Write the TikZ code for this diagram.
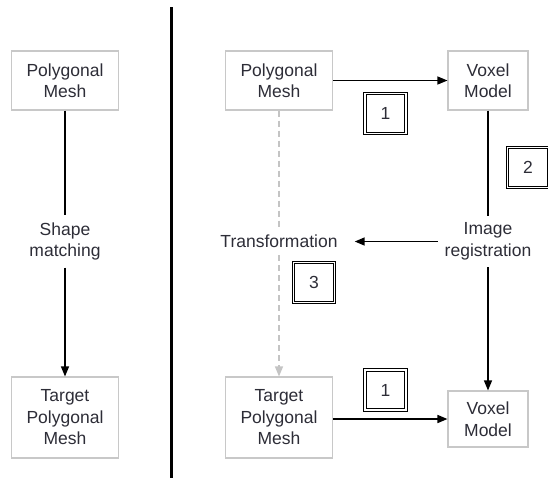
\documentclass[tikz,border=0pt]{standalone}
\usepackage{fontspec}
\setmainfont{Liberation Sans}
\usepackage{tikz}
\usetikzlibrary{positioning, arrows.meta}

\definecolor{boxgray}{RGB}{200,200,200}
\definecolor{dashgray}{RGB}{196,196,196}
\definecolor{txt}{RGB}{45,45,55}

\tikzset{
  block/.style={draw=boxgray, line width=1.1pt, fill=white, minimum width=107pt,
    minimum height=59pt, align=center, text=txt, inner sep=2pt},
  label/.style={align=center, text=txt, inner sep=7pt},
  badge/.style={draw=black, line width=1pt, double=white, double distance=1.3pt,
    minimum width=41pt, minimum height=40pt, text=txt, inner sep=0pt},
  link/.style={line width=1.2pt, -{Triangle[length=10pt,width=8pt]}},
  ghost/.style={draw=dashgray, line width=1.2pt, dash pattern=on 6pt off 4pt}
}

\begin{document}
\begin{tikzpicture}[x=1pt,y=-1pt,on grid,
    every node/.append style={font=\fontsize{17.5}{21.5}\selectfont}]
			\useasboundingbox (0,0) rectangle (548,480);
			% left: direct matching
			\node[block] (lp) at (65,80.5)                  {Polygonal\\Mesh};
			\node[label] (lm) [below=161pt of lp]           {Shape\\matching};
			\node[block, minimum height=81pt] (lt) [below=337pt of lp] {Target\\Polygonal\\Mesh};
			\draw[line width=1.2pt] (lp) -- (lm);
			\draw[link] (lm) -- (lt);
			% divider
			\coordinate (top) at (171,7);
			\coordinate (bot) at (171,478);
			\draw[line width=3pt] (top) -- (bot);
			% right: via voxel models
			\node[block] (rp) at (279,80.5)                 {Polygonal\\Mesh};
			\node[block, minimum width=80pt] (rv) [right=209pt of rp] {Voxel\\Model};
			\node[label] (tr) [below=161pt of rp]           {Transformation};
			\node[label] (ir) [below=161pt of rv]           {Image\\registration};
			\node[block, minimum height=81pt] (rt) [below=337pt of rp] {Target\\Polygonal\\Mesh};
			\node[block, minimum width=80pt, minimum height=56pt] (rw) [below=338.5pt of rv] {Voxel\\Model};
			\node[badge] (b1) at (385.5,113.5) {1};
			\node[badge] (b2) at (528,167.5)   {2};
			\node[badge] (b3) at (314,282.5)   {3};
			\node[badge] (b4) at (385.5,390)   {1};
			\draw[link] (rp) -- (rv);
			\draw[line width=1.2pt] (rv) -- (ir);
			\draw[link] (ir) -- (rw);
			\draw[link, line width=1.6pt, shorten >=10pt] (ir) -- (tr);
			\draw[ghost] (rp) -- (tr);
			\draw[ghost, -{Triangle[length=10pt,width=8pt]}] (tr) -- (rt);
			\draw[link, line width=1.6pt] (rt.east |- rw) -- (rw);
	\end{tikzpicture}
\end{document}
